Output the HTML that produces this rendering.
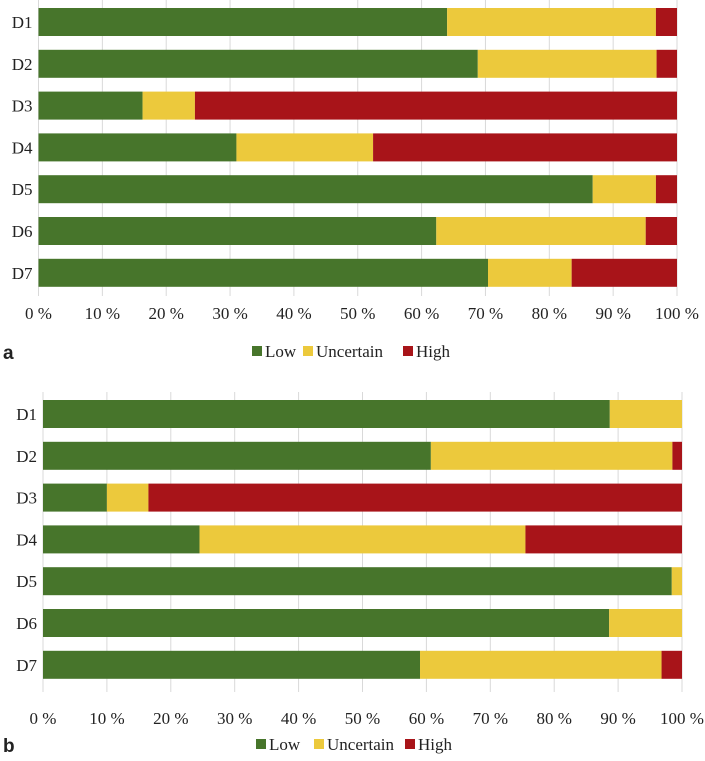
<!DOCTYPE html>
<html><head><meta charset="utf-8"><style>
body{margin:0;background:#fff;width:705px;height:756px;overflow:hidden}
svg text{font-family:"Liberation Serif",serif;font-size:17px;fill:#222}
</style></head><body>
<svg id="c" width="705" height="756"></svg>
<script>
const categories=["D1","D2","D3","D4","D5","D6","D7"];
const lowA=[64,68.8,16.3,31,86.8,62.3,70.4];
const uncA=[32.7,28,8.2,21.4,9.9,32.8,13.1];
const highA=[3.3,3.2,75.5,47.6,3.3,4.9,16.5];
const lowB=[88.7,60.7,10,24.5,98.4,88.6,59];
const uncB=[11.3,37.8,6.5,51,1.6,11.4,37.8];
const highB=[0,1.5,83.5,24.5,0,0,3.2];
const ticks=[0,10,20,30,40,50,60,70,80,90,100];
const colors=["#47752b","#ecc93c","#a81419"];
const names=["Low","Uncertain","High"];
const NS="http://www.w3.org/2000/svg";
const svg=document.getElementById('c');
function mk(t,a,p){const e=document.createElementNS(NS,t);for(const k in a)e.setAttribute(k,a[k]);(p||svg).appendChild(e);return e;}
function panel(id,x0,x1,yTop,gridBottom,tickY,legY,label,series,lx){
  const g=mk('g',{});
  
  
  const sx=v=>x0+(x1-x0)*v/100;
  const pitch=41.8,bh=28;
  ticks.forEach(t=>{
    const l=mk('line',{x1:sx(t),x2:sx(t),y1:yTop-8,y2:gridBottom,stroke:'#d9d9d9','stroke-width':1},g);
    
    
    const tx=mk('text',{x:sx(t),y:tickY,'text-anchor':'middle'},g);tx.textContent=t+' %';
    
    
  });
  categories.forEach((c,i)=>{
    const y=yTop+i*pitch;
    const lb=mk('text',{x:x0-6,y:y+bh/2+6,'text-anchor':'end'},g);lb.textContent=c;
    
    
    let acc=0;
    series.forEach((s,k)=>{
      const v=s[i];
      const r=mk('rect',{x:sx(acc),y:y,width:Math.max(0,sx(acc+v)-sx(acc)),height:bh,fill:colors[k]},g);
      
      
      acc+=v;
    });
  });
  const pl=mk('text',{x:3,y:legY+7,style:'font-family:"Liberation Sans",sans-serif;font-weight:bold;font-size:19px'},g);pl.textContent=label;
  
  
  names.forEach((n,k)=>{
    const r=mk('rect',{x:lx[k],y:legY-6,width:10,height:10,fill:colors[k]},g);
    
    
    const t=mk('text',{x:lx[k]+13,y:legY+5},g);t.textContent=n;
    
    
  });
}
panel('a',38.5,677,8,296,319,352,'a',[lowA,uncA,highA],[252,303,403]);
panel('b',43,682,400,692,724,745,'b',[lowB,uncB,highB],[256,314,405]);
</script>
</body></html>
